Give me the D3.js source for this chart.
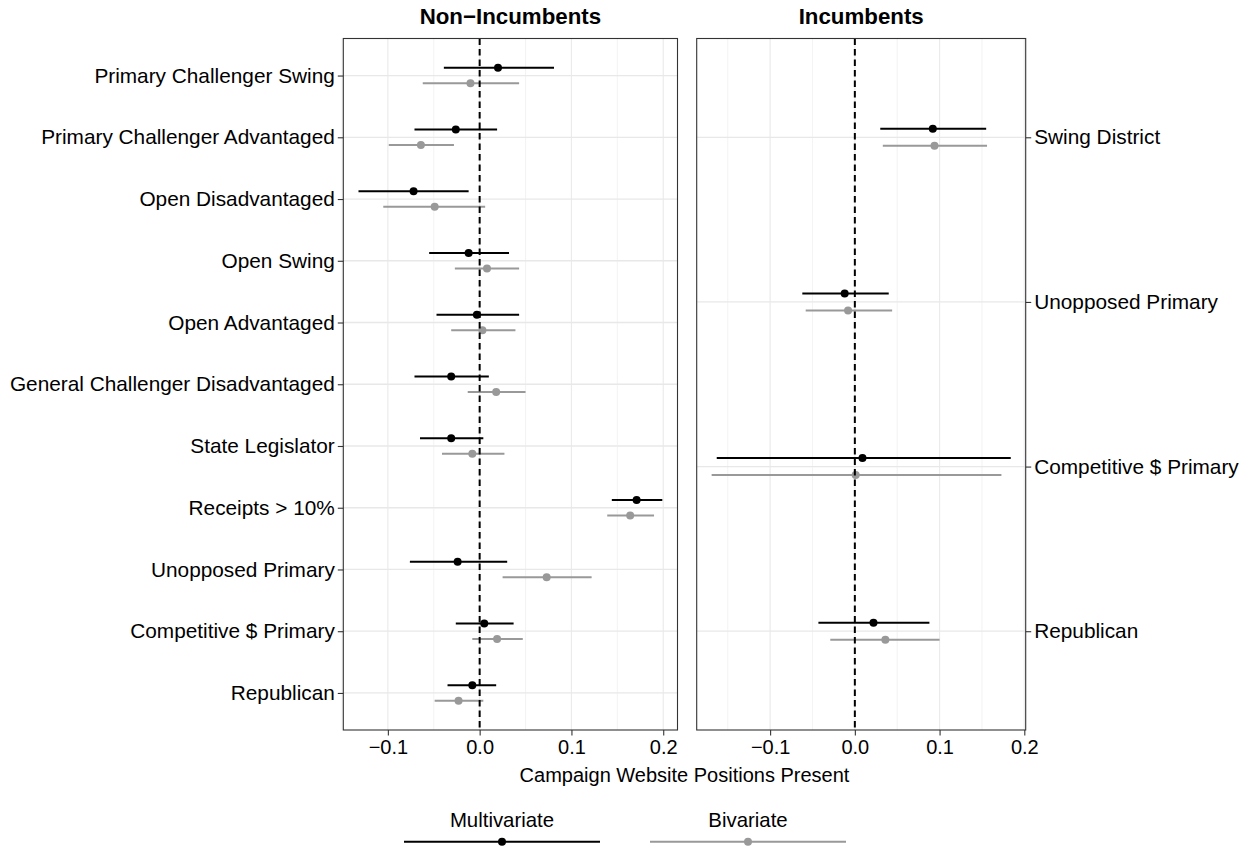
<!DOCTYPE html>
<html>
<head>
<meta charset="utf-8">
<script src="https://cdn.jsdelivr.net/npm/d3@7"></script>
<style>
  body { margin: 0; background: #fff; }
  text { font-family: "Liberation Sans", Arial, Helvetica, sans-serif; }
</style>
</head>
<body>
<div id="chart"></div>
<script>
// categories, top to bottom
const nonIncLabels = [
    "Primary Challenger Swing", "Primary Challenger Advantaged", "Open Disadvantaged",
    "Open Swing", "Open Advantaged", "General Challenger Disadvantaged", "State Legislator",
    "Receipts > 10%", "Unopposed Primary", "Competitive $ Primary", "Republican"
];
const incLabels = ["Swing District", "Unopposed Primary", "Competitive $ Primary", "Republican"];

// [estimate, lower, upper]
const nonIncMulti = [
    [0.020, -0.039, 0.081],
    [-0.026, -0.071, 0.019],
    [-0.072, -0.132, -0.012],
    [-0.012, -0.055, 0.032],
    [-0.003, -0.047, 0.043],
    [-0.031, -0.071, 0.010],
    [-0.031, -0.065, 0.004],
    [0.171, 0.144, 0.199],
    [-0.024, -0.076, 0.030],
    [0.005, -0.026, 0.037],
    [-0.008, -0.035, 0.018]
];
const nonIncBi = [
    [-0.010, -0.062, 0.043],
    [-0.064, -0.099, -0.028],
    [-0.049, -0.105, 0.006],
    [0.008, -0.027, 0.043],
    [0.003, -0.031, 0.039],
    [0.018, -0.013, 0.050],
    [-0.008, -0.041, 0.027],
    [0.164, 0.139, 0.190],
    [0.073, 0.025, 0.122],
    [0.019, -0.008, 0.047],
    [-0.023, -0.049, 0.004]
];
const incMulti = [
    [0.092, 0.030, 0.155],
    [-0.012, -0.062, 0.040],
    [0.009, -0.163, 0.184],
    [0.022, -0.043, 0.088]
];
const incBi = [
    [0.094, 0.033, 0.156],
    [-0.008, -0.058, 0.044],
    [0.001, -0.169, 0.173],
    [0.036, -0.029, 0.100]
];

const xTicks = [-0.1, 0, 0.1, 0.2];
const xMinorTicks = [-0.15, -0.05, 0.05, 0.15];
const models = ["Multivariate", "Bivariate"];
const stripTitles = ["Non\u2212Incumbents", "Incumbents"];
const xTitle = "Campaign Website Positions Present";

const width = 1250;
const height = 848;
const panelTop = 38.5, panelBottom = 730;
const colors = { Multivariate: "#000000", Bivariate: "#999999" };
const fontSize = "20px";

const svg = d3.select("#chart")
    .append("svg")
    .attr("width", width)
    .attr("height", height);

const panels = [
    { title: stripTitles[0], labels: nonIncLabels, multi: nonIncMulti, bi: nonIncBi, x0: 343.3, x1: 677.5, dodge: 7.7, side: "left" },
    { title: stripTitles[1], labels: incLabels, multi: incMulti, bi: incBi, x0: 696.7, x1: 1025.7, dodge: 8.5, side: "right" }
];

const fmt = d3.format(".1f");

const drawPanel = p => {
    // ggplot-like 5% expansion of the data range
    const lo = d3.min([...p.multi, ...p.bi], d => d[1]);
    const hi = d3.max([...p.multi, ...p.bi], d => d[2]);
    const pad = (hi - lo) * 0.05;
    const xScale = d3.scaleLinear().domain([lo - pad, hi + pad]).range([p.x0, p.x1]);
    const yScale = d3.scalePoint().domain(p.labels).range([panelTop, panelBottom]).padding(0.6);

    const g = svg.append("g");

    // grid
    g.selectAll(".minor")
        .data(xMinorTicks)
        .join("line")
            .attr("x1", d => xScale(d)).attr("x2", d => xScale(d))
            .attr("y1", panelTop).attr("y2", panelBottom)
            .attr("stroke", "#ebebeb").attr("stroke-width", 0.6);
    g.selectAll(".major")
        .data(xTicks)
        .join("line")
            .attr("x1", d => xScale(d)).attr("x2", d => xScale(d))
            .attr("y1", panelTop).attr("y2", panelBottom)
            .attr("stroke", "#ebebeb").attr("stroke-width", 1.2);
    g.selectAll(".hgrid")
        .data(p.labels)
        .join("line")
            .attr("x1", p.x0).attr("x2", p.x1)
            .attr("y1", d => yScale(d)).attr("y2", d => yScale(d))
            .attr("stroke", "#e8e8e8").attr("stroke-width", 1.3);

    // estimates with intervals
    [["Multivariate", p.multi, -p.dodge], ["Bivariate", p.bi, p.dodge]].forEach(([name, rows, off]) => {
        const pts = rows.map((r, i) => ({ label: p.labels[i], est: r[0], lo: r[1], hi: r[2] }));
        g.selectAll(`.bar-${name}`)
            .data(pts)
            .join("line")
                .attr("x1", d => xScale(d.lo)).attr("x2", d => xScale(d.hi))
                .attr("y1", d => yScale(d.label) + off).attr("y2", d => yScale(d.label) + off)
                .attr("stroke", colors[name]).attr("stroke-width", 2);
        g.selectAll(`.pt-${name}`)
            .data(pts)
            .join("circle")
                .attr("cx", d => xScale(d.est))
                .attr("cy", d => yScale(d.label) + off)
                .attr("r", 4)
                .attr("fill", colors[name]);
    });

    // zero reference line
    g.append("line")
        .attr("x1", xScale(0)).attr("x2", xScale(0))
        .attr("y1", panelTop).attr("y2", panelBottom)
        .attr("stroke", "#000").attr("stroke-width", 2)
        .attr("stroke-dasharray", "6.5,4");

    // border
    g.append("rect")
        .attr("x", p.x0).attr("y", panelTop)
        .attr("width", p.x1 - p.x0).attr("height", panelBottom - panelTop)
        .attr("fill", "none").attr("stroke", "#333").attr("stroke-width", 1.1);

    // x axis
    const xAxis = g.append("g")
        .attr("transform", `translate(0,${panelBottom})`)
        .call(d3.axisBottom(xScale).tickValues(xTicks).tickFormat(fmt).tickSize(5.5).tickPadding(4));
    xAxis.select(".domain").remove();
    xAxis.selectAll(".tick line").attr("stroke", "#333").attr("stroke-width", 1.1);
    xAxis.selectAll(".tick text").attr("fill", "#000").style("font-size", fontSize);

    // y axis
    const yAxisGen = p.side === "left" ? d3.axisLeft(yScale) : d3.axisRight(yScale);
    const yAxis = g.append("g")
        .attr("transform", `translate(${p.side === "left" ? p.x0 : p.x1},0)`)
        .call(yAxisGen.tickSize(5.5).tickPadding(3));
    yAxis.select(".domain").remove();
    yAxis.selectAll(".tick line").attr("stroke", "#333").attr("stroke-width", 1.1);
    yAxis.selectAll(".tick text").attr("fill", "#000").style("font-size", "20.8px");

    // strip title
    g.append("text")
        .attr("x", (p.x0 + p.x1) / 2)
        .attr("y", 24)
        .attr("text-anchor", "middle")
        .style("font-size", "22.3px")
        .style("font-weight", "bold")
        .text(p.title);
};

panels.forEach(drawPanel);

// axis title
svg.append("text")
    .attr("x", (panels[0].x0 + panels[1].x1) / 2)
    .attr("y", 781.5)
    .attr("text-anchor", "middle")
    .style("font-size", fontSize)
    .text(xTitle);

// legend
const legendX = d3.scalePoint().domain(models).range([502, 748]);
const legend = svg.append("g")
    .selectAll("g")
    .data(models)
    .join("g")
        .attr("transform", d => `translate(${legendX(d)},0)`);
legend.append("text")
    .attr("y", 826.5)
    .attr("text-anchor", "middle")
    .style("font-size", "20.4px")
    .text(d => d);
legend.append("line")
    .attr("x1", -98).attr("x2", 98)
    .attr("y1", 841.7).attr("y2", 841.7)
    .attr("stroke", d => colors[d]).attr("stroke-width", 2);
legend.append("circle")
    .attr("cy", 841.7)
    .attr("r", 4)
    .attr("fill", d => colors[d]);
</script>
</body>
</html>
